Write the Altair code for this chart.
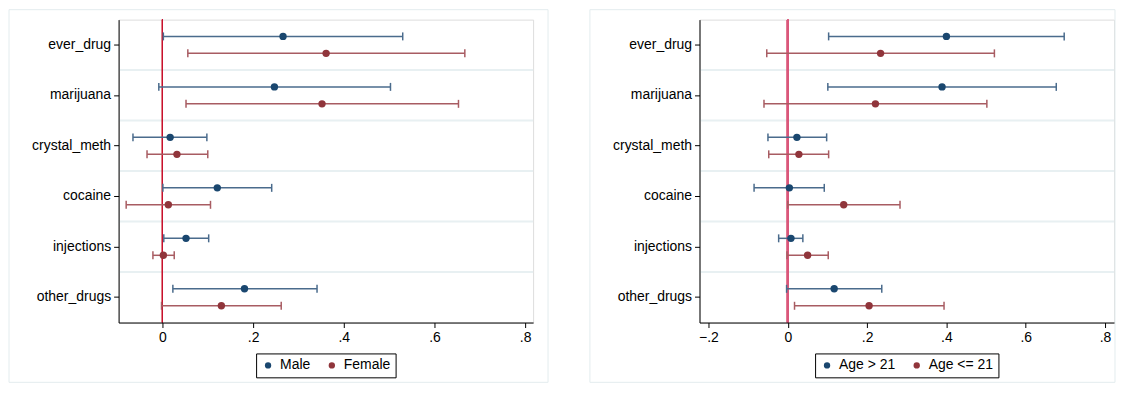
import altair as alt
import pandas as pd

drugs = ["ever_drug", "marijuana", "crystal_meth", "cocaine", "injections", "other_drugs"]

# Panel 1: sex
sex_groups = ["Male", "Female"]
male_est = [0.266, 0.247, 0.017, 0.121, 0.052, 0.181]
male_lo = [0.002, -0.008, -0.065, 0.001, 0.003, 0.023]
male_hi = [0.530, 0.503, 0.098, 0.241, 0.102, 0.341]
female_est = [0.361, 0.352, 0.032, 0.013, 0.002, 0.130]
female_lo = [0.056, 0.052, -0.034, -0.080, -0.021, -0.002]
female_hi = [0.667, 0.653, 0.100, 0.106, 0.026, 0.262]

# Panel 2: age
age_groups = ["Age > 21", "Age <= 21"]
old_est = [0.400, 0.389, 0.023, 0.004, 0.008, 0.117]
old_lo = [0.103, 0.101, -0.050, -0.085, -0.023, -0.003]
old_hi = [0.697, 0.677, 0.098, 0.092, 0.038, 0.237]
young_est = [0.234, 0.221, 0.028, 0.141, 0.050, 0.205]
young_lo = [-0.053, -0.060, -0.048, 0.000, -0.002, 0.017]
young_hi = [0.521, 0.502, 0.103, 0.283, 0.102, 0.394]

left_ticks = [0, 0.2, 0.4, 0.6, 0.8]
right_ticks = [-0.2, 0, 0.2, 0.4, 0.6, 0.8]

NAVY = "#1a476f"
MAROON = "#90353b"
BAR_COLORS = ["#4a6b8c", "#a85c62"]
GRID = "#e8f0f2"
FONT = "Liberation Sans"
W, H = 416, 304
BAND_POS = [0.332, 0.668]


def make_df(groups, ests, los, his):
    rows = []
    for g, e, l, h in zip(groups, ests, los, his):
        for d, ev, lv, hv in zip(drugs, e, l, h):
            rows.append({"drug": d, "group": g, "est": ev, "lo": lv, "hi": hv})
    return pd.DataFrame(rows)


label_expr = ("datum.value == 0 ? '0' : "
              "replace(format(datum.value, '.1f'), '0.', '.')")


def panel(df, groups, field, xdomain, ticks, refcolor, refwidth, legend_x, frame_right):
    yscale = alt.Scale(domain=drugs, paddingInner=0, paddingOuter=0)
    yaxis = alt.Axis(title=None, labelFontSize=14, labelColor="black", labelFont=FONT,
                     tickColor="black", domainColor="black", tickSize=5,
                     labelPadding=3, grid=False, zindex=1)
    xscale = alt.Scale(domain=xdomain, nice=False, zero=False)
    xaxis = alt.Axis(title=None, values=ticks, labelExpr=label_expr, labelFontSize=14,
                     labelColor="black", labelFont=FONT, tickColor="black",
                     domainColor="black", tickSize=5, labelPadding=3, grid=False, zindex=1)
    color = alt.Color(f"{field}:N", scale=alt.Scale(domain=groups, range=[NAVY, MAROON]),
                      legend=alt.Legend(title=None, orient="none", legendX=legend_x, legendY=335,
                                        direction="horizontal", strokeColor="black",
                                        fillColor="white", padding=5, symbolType="circle",
                                        symbolSize=40, labelFontSize=14, labelFont=FONT,
                                        labelColor="black", columnPadding=14, labelOffset=5,
                                        gridAlign="none", symbolStrokeWidth=0))

    frame = alt.Chart(pd.DataFrame({"k": [0]})).mark_rect(
        fillOpacity=0, stroke="#e3ecee", strokeWidth=1, clip=False
    ).encode(x=alt.value(-110), x2=alt.value(W + frame_right), y=alt.value(-10), y2=alt.value(H + 60))

    grid_df = pd.DataFrame({"drug": drugs[1:]})
    grid = alt.Chart(grid_df).mark_rule(color=GRID, strokeWidth=2).encode(
        y=alt.Y("drug:N", bandPosition=0, scale=yscale, axis=yaxis),
        x=alt.value(0), x2=alt.value(W)
    )

    base = alt.Chart(df.rename(columns={"group": field}))

    ref = base.mark_rule(color=refcolor, strokeWidth=refwidth).encode(
        x=alt.datum(0, scale=xscale, axis=xaxis)
    )

    layers = [frame, grid, ref]
    for g, bp, bc in zip(groups, BAND_POS, BAR_COLORS):
        sub = base.transform_filter(alt.FieldEqualPredicate(field=field, equal=g))
        yenc = alt.Y("drug:N", bandPosition=bp, scale=yscale, axis=yaxis)
        bars = sub.mark_rule(strokeWidth=1.5, color=bc).encode(
            x=alt.X("lo:Q", scale=xscale, axis=xaxis), x2="hi:Q", y=yenc
        )
        caps = sub.transform_fold(["lo", "hi"], as_=["end", "xv"]).mark_point(
            shape="M0,-1L0,1", size=64, filled=False, strokeWidth=1.5, color=bc, opacity=1
        ).encode(x=alt.X("xv:Q", scale=xscale, axis=xaxis), y=yenc)
        layers += [bars, caps]
    for g, bp in zip(groups, BAND_POS):
        sub = base.transform_filter(alt.FieldEqualPredicate(field=field, equal=g))
        yenc = alt.Y("drug:N", bandPosition=bp, scale=yscale, axis=yaxis)
        pts = sub.mark_circle(size=55, opacity=1).encode(
            x=alt.X("est:Q", scale=xscale, axis=xaxis), y=yenc, color=color
        )
        layers.append(pts)

    return alt.layer(*layers).properties(width=W, height=H)


left = panel(make_df(sex_groups, [male_est, female_est], [male_lo, female_lo], [male_hi, female_hi]),
             sex_groups, "sex", [-0.0967, 0.8176], left_ticks, "#c8102e", 1, 138, 15)
right = panel(make_df(age_groups, [old_est, young_est], [old_lo, young_lo], [old_hi, young_hi]),
              age_groups, "age", [-0.2226, 0.8226], right_ticks, "#d9577b", 1.8, 116, 1)

chart = alt.hconcat(left, right, spacing=40).resolve_scale(
    color="independent", x="independent", y="independent"
).resolve_legend(color="independent").properties(
    padding={"left": 0, "top": 0, "right": 0, "bottom": 0}
).configure_view(stroke=None).configure(background="white", font=FONT)

chart.save("out.html", embed_options={"renderer": "svg", "actions": False})
